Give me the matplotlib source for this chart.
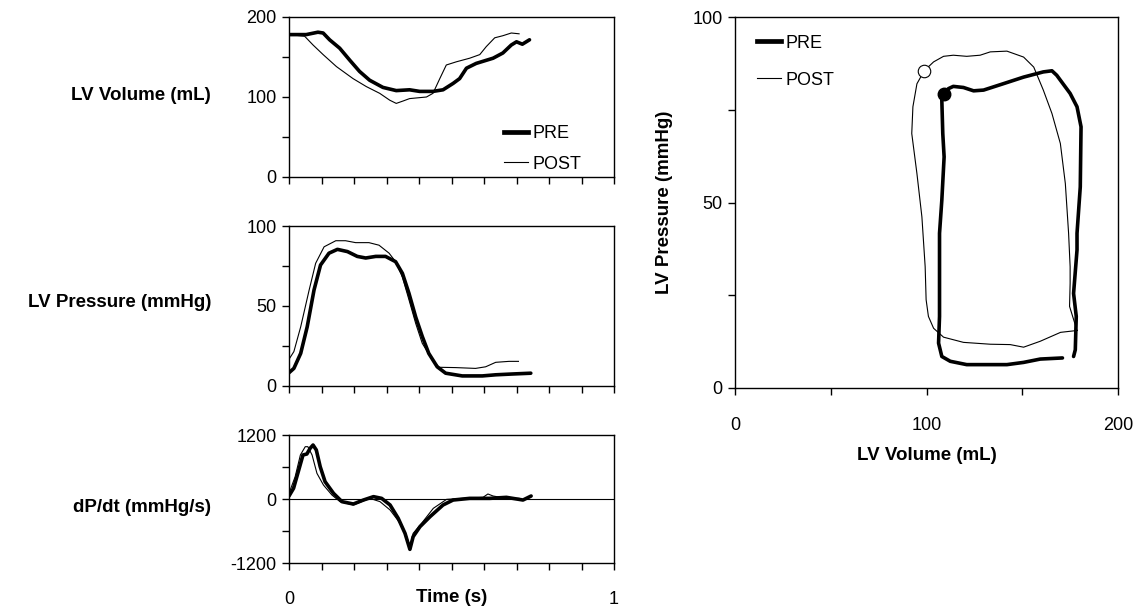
import matplotlib
matplotlib.use('Agg')
import matplotlib.pyplot as plt
from matplotlib.lines import Line2D

plt.rcParams['font.family'] = ['Liberation Sans', 'DejaVu Sans']

# ---- time series (s) ----
vol_pre_t = [0, 0.053, 0.089, 0.105, 0.125, 0.156, 0.187, 0.217, 0.248, 0.289, 0.33, 0.371,
             0.402, 0.443, 0.474, 0.505, 0.525, 0.546, 0.576, 0.628, 0.658, 0.684, 0.7, 0.718, 0.74]
vol_pre = [178, 178, 181, 180, 171.5, 161, 146, 132, 121, 112, 108, 109,
           107, 107, 109, 117, 123, 136, 142, 148.5, 155, 165, 169, 166, 171.5]

vol_post_t = [0, 0.048, 0.074, 0.105, 0.146, 0.197, 0.238, 0.279, 0.31, 0.33, 0.351, 0.371,
              0.423, 0.443, 0.464, 0.484, 0.515, 0.556, 0.587, 0.607, 0.633, 0.658, 0.684, 0.708]
vol_post = [178, 176, 165, 153, 138, 123, 113, 104.6, 96, 92, 95, 98,
            100, 104.6, 123, 140, 144, 148.5, 153, 163, 174, 176.6, 180, 179]

pres_pre_t = [0, 0.015, 0.036, 0.056, 0.077, 0.097, 0.123, 0.149, 0.18, 0.21, 0.236, 0.267,
              0.297, 0.328, 0.349, 0.369, 0.39, 0.41, 0.43, 0.456, 0.482, 0.533, 0.595, 0.636,
              0.687, 0.744]
pres_pre = [8.3, 11, 20.4, 37, 60, 75.6, 83, 85.4, 84, 81, 80, 81,
            81, 77.7, 70.4, 58, 43, 31, 20.4, 12, 8, 6.3, 6.3, 7,
            7.5, 8]

pres_post_t = [0, 0.015, 0.036, 0.062, 0.082, 0.108, 0.144, 0.174, 0.205, 0.246, 0.277, 0.308,
               0.328, 0.349, 0.369, 0.39, 0.41, 0.441, 0.462, 0.513, 0.574, 0.605, 0.636,
               0.677, 0.706]
pres_post = [16.7, 21.5, 37, 60, 76.7, 87, 90.8, 90.8, 89.6, 89.6, 88, 83,
             77.7, 68, 54, 39, 26.7, 16.3, 11.7, 11.5, 11, 12, 14.8,
             15.4, 15.4]

dpdt_pre_t = [0, 0.014, 0.03, 0.043, 0.055, 0.065, 0.074, 0.084, 0.096, 0.111, 0.137, 0.163,
              0.198, 0.229, 0.26, 0.285, 0.311, 0.336, 0.357, 0.372, 0.382, 0.403, 0.434,
              0.474, 0.505, 0.556, 0.618, 0.669, 0.72, 0.745]
dpdt_pre = [56, 200, 544, 825, 844, 950, 1012, 919, 606, 325, 106, -50,
            -94, -19, 44, 12, -112, -362, -644, -944, -706, -519, -331,
            -112, -19, 12, 12, 31, -19, 56]

dpdt_post_t = [0, 0.019, 0.035, 0.05, 0.058, 0.071, 0.086, 0.106, 0.132, 0.157, 0.198, 0.249,
               0.28, 0.311, 0.342, 0.362, 0.372, 0.382, 0.408, 0.444, 0.485, 0.536, 0.597,
               0.612, 0.628, 0.669, 0.708]
dpdt_post = [106, 419, 825, 981, 981, 825, 481, 262, 75, -50, -112, 12,
             -50, -206, -456, -706, -894, -644, -456, -175, -6, 12, 31,
             94, 56, 12, 12]

# ---- pressure-volume loops ----
loop_pre_v = [176.8, 177.7, 178.2, 176.8, 178.6, 178.6, 180.3, 180.7, 178.6, 175, 168, 165.5,
              161, 150.7, 140, 129.8, 124.6, 119.3, 114, 111.5, 108.9, 108, 108.5, 109.2,
              108, 106.8, 106.8, 106.8, 106.3, 108, 112.4, 121, 142, 150.7, 159.4, 171]
loop_pre_p = [8.5, 10.3, 19.3, 25.5, 37.2, 41.7, 54.2, 70.4, 75.8, 79.4, 84.3, 85.5,
              85.2, 83.8, 82, 80.3, 80.1, 81, 81.3, 80.7, 79.2, 77.6, 68.6, 62.3,
              50.6, 41.7, 26.4, 19.3, 12.1, 8.5, 7.2, 6.3, 6.3, 6.9, 7.8, 8.1]

loop_post_v = [178.6, 174.7, 175, 175, 174.2, 172.5, 169.9, 165.5, 161, 156, 150.7, 142,
               133.3, 128, 121, 114, 108.9, 103.7, 98.8, 95, 92.9, 92.3, 95, 97.6,
               99.3, 99.8, 101, 103.7, 108.9, 119.3, 133.3, 143.7, 150.7, 159.4, 170, 178.6]
loop_post_p = [15.5, 22, 28.2, 32.7, 41.7, 55.1, 65.9, 74, 80.3, 86.5, 89.2, 90.8,
               90.6, 89.7, 89.4, 89.7, 89.4, 87.9, 85.5, 82, 75.8, 68.6, 57.8, 46.1,
               32.7, 23.8, 19.3, 16.1, 13.7, 12.3, 11.8, 11.7, 11, 12.6, 15, 15.5]

# end-systolic points
es_pre = (108.9, 79.2)
es_post = (98.8, 85.5)

W, H = 1139, 610
fig = plt.figure(figsize=(W / 100, H / 100), dpi=100)

FS = 13          # tick labels
LFS = 13.5       # bold axis labels
LW_PRE = 2.6
LW_POST = 0.8


def box(l, t, r, b):
    # pixel box -> figure fraction
    return [l / W, 1 - b / H, (r - l) / W, (b - t) / H]


def style(ax):
    for s in ax.spines.values():
        s.set_linewidth(1.0)
    ax.tick_params(direction='out', length=5, width=1, labelsize=FS, pad=4)


ax1 = fig.add_axes(box(289, 17, 614, 177))
ax2 = fig.add_axes(box(289, 226, 614, 386))
ax3 = fig.add_axes(box(289, 435, 614, 563))
ax4 = fig.add_axes(box(735, 17, 1118, 388))

xt = [i / 10 for i in range(11)]

ax1.plot(vol_pre_t, vol_pre, color='black', lw=LW_PRE, solid_capstyle='round')
ax1.plot(vol_post_t, vol_post, color='black', lw=LW_POST)
ax1.set_ylim(0, 200)
ax1.set_yticks([0, 50, 100, 150, 200])
ax1.set_yticklabels(['0', '', '100', '', '200'])

ax2.plot(pres_pre_t, pres_pre, color='black', lw=LW_PRE, solid_capstyle='round')
ax2.plot(pres_post_t, pres_post, color='black', lw=LW_POST)
ax2.set_ylim(0, 100)
ax2.set_yticks([0, 25, 50, 75, 100])
ax2.set_yticklabels(['0', '', '50', '', '100'])

ax3.axhline(0, color='black', lw=0.8)
ax3.plot(dpdt_pre_t, dpdt_pre, color='black', lw=LW_PRE, solid_capstyle='round')
ax3.plot(dpdt_post_t, dpdt_post, color='black', lw=LW_POST)
ax3.set_ylim(-1200, 1200)
ax3.set_yticks([-1200, -600, 0, 600, 1200])
ax3.set_yticklabels(['-1200', '', '0', '', '1200'])

for ax in (ax1, ax2, ax3):
    style(ax)
    ax.set_xlim(0, 1)
    ax.set_xticks(xt)
    ax.set_xticklabels([])

ax3.set_xticklabels(['0'] + [''] * 9 + ['1'])
ax3.tick_params(axis='x', pad=15)
ax3.text(0.5, -0.27, 'Time (s)', transform=ax3.transAxes, ha='center', va='center',
         fontsize=LFS, fontweight='bold')

lbl_x = 211 / W
fig.text(lbl_x, 1 - 95 / H, 'LV Volume (mL)', ha='right', va='center', fontsize=LFS, fontweight='bold')
fig.text(lbl_x, 1 - 302 / H, 'LV Pressure (mmHg)', ha='right', va='center', fontsize=LFS, fontweight='bold')
fig.text(lbl_x, 1 - 508 / H, 'dP/dt (mmHg/s)', ha='right', va='center', fontsize=LFS, fontweight='bold')

leg_handles = [Line2D([], [], color='black', lw=LW_PRE + 0.8), Line2D([], [], color='black', lw=LW_POST)]
ax1.legend(leg_handles, ['PRE', 'POST'], loc='upper left', frameon=False, fontsize=FS,
           handlelength=1.35, handletextpad=0.25, labelspacing=0.75, borderpad=0,
           borderaxespad=0, bbox_to_anchor=(0.66, 0.325))

# PV loop
ax4.plot(loop_pre_v, loop_pre_p, color='black', lw=LW_PRE, solid_capstyle='round')
ax4.plot(loop_post_v, loop_post_p, color='black', lw=LW_POST)
ax4.plot([es_pre[0]], [es_pre[1]], 'o', color='black', ms=9)
ax4.plot([es_post[0]], [es_post[1]], 'o', mfc='white', mec='black', mew=0.8, ms=9)
ax4.set_xlim(0, 200)
ax4.set_ylim(0, 100)
ax4.set_xticks([0, 50, 100, 150, 200])
ax4.set_xticklabels(['0', '', '100', '', '200'])
ax4.set_yticks([0, 25, 50, 75, 100])
ax4.set_yticklabels(['0', '', '50', '', '100'])
style(ax4)
ax4.tick_params(axis='x', pad=16)
ax4.set_xlabel('LV Volume (mL)', fontsize=LFS, fontweight='bold', labelpad=9)
ax4.set_ylabel('LV Pressure (mmHg)', fontsize=LFS, fontweight='bold', labelpad=14)
ax4.legend(leg_handles, ['PRE', 'POST'], loc='upper left', frameon=False, fontsize=FS,
           handlelength=1.35, handletextpad=0.25, labelspacing=1.1, borderpad=0,
           borderaxespad=0, bbox_to_anchor=(0.057, 0.952))

fig.savefig('out.png', dpi=100)
